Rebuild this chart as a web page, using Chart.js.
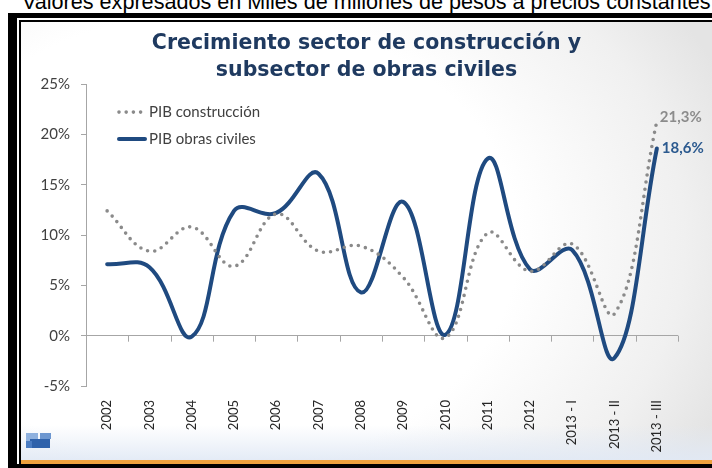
<!DOCTYPE html>
<html>
<head>
<meta charset="utf-8">
<title>Crecimiento sector de construcción</title>
<script src="https://cdn.jsdelivr.net/npm/chart.js@4.4.0/dist/chart.umd.min.js"></script>
<style>
  html, body { margin: 0; padding: 0; background: #fff; width: 712px; height: 468px; overflow: hidden; }
  #subtitle { position: absolute; left: 22px; top: -8px; font: 21.6px "Liberation Sans", Arial, sans-serif; line-height: 19px; white-space: nowrap; color: #000; }
  #frame { position: absolute; left: 8px; top: 13px; width: 704px; height: 455px; background: #000; }
  #gap { position: absolute; left: 17px; top: 18px; width: 695px; height: 446px; background: #fff; }
  #rule { position: absolute; left: 19px; top: 20px; width: 693px; height: 444px; background: #000; }
  #panel {
    position: absolute; left: 21px; top: 22px; width: 691px; height: 438px;
    background:
      linear-gradient(to bottom, rgba(225,233,245,0) 92%, rgba(225,233,245,0.9) 100%),
      radial-gradient(ellipse 80% 95% at 28% 50%, #ffffff 55%, #f0f0f0 85%, #e4e4e4 100%);
  }
  #orange { position: absolute; left: 21px; top: 460px; width: 691px; height: 4px; background: #eea23e; }
  #chart { position: absolute; left: 0; top: 0; }
  .logo { position: absolute; }
</style>
</head>
<body>
<div id="subtitle">Valores expresados en Miles de millones de pesos a precios constantes</div>
<div id="frame"></div>
<div id="gap"></div>
<div id="rule"></div>
<div id="panel">
  <canvas id="chart" width="691" height="438"></canvas>
  <!-- small company logo, bottom left -->
  <div class="logo" style="left:5px;top:411px;width:12px;height:8px;background:#8fb1de"></div>
  <div class="logo" style="left:9px;top:417px;width:20px;height:9px;background:#2f62ab"></div>
  <div class="logo" style="left:19px;top:411px;width:11px;height:6px;background:#6d97d0"></div>
  <div class="logo" style="left:5px;top:419px;width:6px;height:7px;background:#4a7cc2"></div>
</div>
<div id="orange"></div>

<script>
// data (annual growth, %)
var categories = ['2002', '2003', '2004', '2005', '2006', '2007', '2008', '2009', '2010', '2011', '2012', '2013 - I', '2013 - II', '2013 - III'];
var pibConstruccion = [12.4, 8.4, 10.8, 6.9, 12.1, 8.4, 8.9, 5.8, -0.2, 10.2, 6.4, 9.1, 2.2, 21.3];
var pibObrasCiviles = [7.1, 6.8, -0.1, 12.4, 12.2, 16.1, 4.3, 13.3, 0.1, 17.6, 6.6, 8.5, -2.2, 18.6];
var yMin = -5;
var yMax = 25;
var yStep = 5;

var axisColor = '#a6a6a6';
var textColor = '#404040';

// draws the little ticks under the 0% line, the legend and the end labels
var decorPlugin = {
  id: 'decor',
  beforeDatasetsDraw: function(chart) {
    var ctx = chart.ctx;
    var xs = chart.scales.x;
    var y0 = chart.scales.y.getPixelForValue(0);
    ctx.save();
    ctx.strokeStyle = axisColor;
    ctx.lineWidth = 1;
    for (var k = 0; k <= categories.length; k++) {
      var x = Math.round(xs.getPixelForValue(k - 0.5)) + 0.5;
      ctx.beginPath();
      ctx.moveTo(x, y0);
      ctx.lineTo(x, y0 + 6);
      ctx.stroke();
    }
    ctx.restore();
  },
  afterDatasetsDraw: function(chart) {
    var ctx = chart.ctx;
    var area = chart.chartArea;
    // legend, sitting inside the plot area
    var lx = area.left + 31;
    var ly = area.top + 28;
    chart.data.datasets.forEach(function(ds, i) {
      var y = ly + i * 27;
      ctx.save();
      ctx.strokeStyle = ds.borderColor;
      ctx.lineWidth = ds.borderWidth;
      ctx.lineCap = ds.borderCapStyle || 'butt';
      ctx.setLineDash(ds.borderDash || []);
      ctx.beginPath();
      ctx.moveTo(lx + 2, y);
      ctx.lineTo(lx + 28, y);
      ctx.stroke();
      ctx.restore();
      ctx.fillStyle = textColor;
      ctx.font = '15px Lato';
      ctx.textAlign = 'left';
      ctx.textBaseline = 'middle';
      ctx.fillText(ds.label, lx + 32, y);
    });
    // value of the last point of each series
    chart.data.datasets.forEach(function(ds, i) {
      var meta = chart.getDatasetMeta(i);
      var pt = meta.data[meta.data.length - 1];
      var v = ds.data[ds.data.length - 1];
      ctx.fillStyle = ds.endLabelColor;
      ctx.font = 'bold 15px Lato';
      ctx.textAlign = 'left';
      ctx.textBaseline = 'middle';
      ctx.fillText(v.toFixed(1).replace('.', ',') + '%', pt.x + ds.endLabelDx, pt.y + ds.endLabelDy);
    });
  }
};

var ctx = document.getElementById('chart');
var chart = new Chart(ctx, {
  type: 'line',
  data: {
    labels: categories,
    datasets: [{
      label: 'PIB construcción',
      data: pibConstruccion,
      borderColor: '#8a8a8a',
      borderWidth: 3.6,
      borderDash: [0, 7.2],
      borderCapStyle: 'round',
      pointRadius: 0,
      tension: 0.4,
      fill: false,
      endLabelColor: '#8c8c8c',
      endLabelDx: 3,
      endLabelDy: -4
    }, {
      label: 'PIB obras civiles',
      data: pibObrasCiviles,
      borderColor: '#1f4a80',
      borderWidth: 4,
      borderCapStyle: 'round',
      pointRadius: 0,
      tension: 0.4,
      fill: false,
      endLabelColor: '#2c5a8f',
      endLabelDx: 5,
      endLabelDy: 0
    }]
  },
  options: {
    responsive: false,
    animation: false,
    events: [],
    plugins: {
      legend: { display: false },
      tooltip: { enabled: false },
      title: {
        display: true,
        text: ['Crecimiento sector de construcción y', 'subsector de obras civiles'],
        color: '#1f3a60',
        font: { family: 'DejaVu Sans', size: 20.5, weight: 'bold', lineHeight: 1.32 },
        padding: { top: 8, bottom: 0 }
      }
    },
    scales: {
      x: {
        type: 'category',
        offset: true,
        border: { display: false },
        grid: { display: false, drawTicks: false },
        ticks: {
          autoSkip: false,
          minRotation: 90,
          maxRotation: 90,
          padding: 14,
          color: '#262626',
          font: { family: 'Lato', size: 13 }
        },
        afterFit: function(scale) { scale.height = 74; }
      },
      y: {
        min: yMin,
        max: yMax,
        border: { display: true, color: axisColor, width: 1 },
        grid: {
          color: function(c) { return c.tick && c.tick.value === 0 ? axisColor : 'rgba(0,0,0,0)'; },
          tickColor: axisColor,
          tickLength: 5,
          drawTicks: true
        },
        ticks: {
          stepSize: yStep,
          padding: 11,
          color: textColor,
          font: { family: 'Lato', size: 15 },
          callback: function(v) { return v + '%'; }
        },
        afterFit: function(scale) { scale.width = 65; }
      },
      // empty right-hand axis: only keeps room for the end labels
      yRight: {
        position: 'right',
        grid: { display: false, drawTicks: false },
        border: { display: false },
        ticks: { display: false },
        afterFit: function(scale) { scale.width = 34; }
      }
    }
  },
  plugins: [decorPlugin]
});
</script>
</body>
</html>
